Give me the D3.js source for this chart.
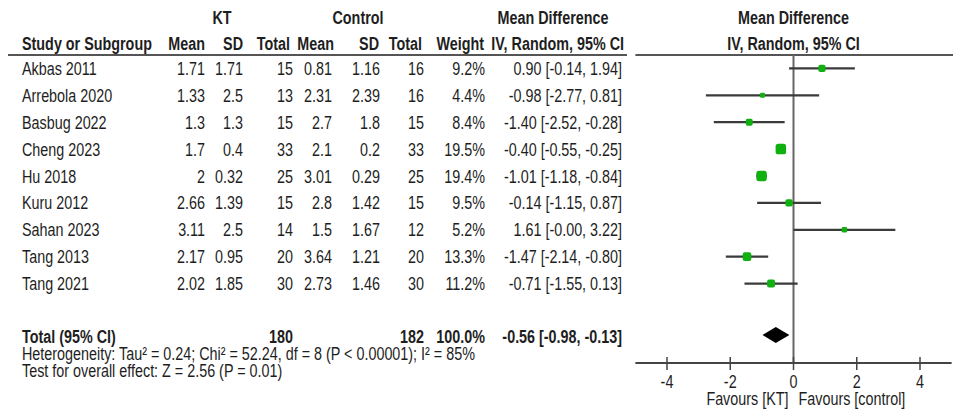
<!DOCTYPE html>
<html><head><meta charset="utf-8">
<script src="https://cdn.jsdelivr.net/npm/d3@7"></script>
<style>
html,body{margin:0;padding:0;background:#fff;}
svg{display:block;}
text{font-family:"Liberation Sans",Arial,sans-serif;fill:#1e1e1e;}
</style></head>
<body>
<svg id="chart" width="953" height="415"></svg>
<script>
const studies = ["Akbas 2011","Arrebola 2020","Basbug 2022","Cheng 2023","Hu 2018","Kuru 2012","Sahan 2023","Tang 2013","Tang 2021"];
const ktMean = ["1.71","1.33","1.3","1.7","2","2.66","3.11","2.17","2.02"];
const ktSD = ["1.71","2.5","1.3","0.4","0.32","1.39","2.5","0.95","1.85"];
const ktN = [15,13,15,33,25,15,14,20,30];
const ctrlMean = ["0.81","2.31","2.7","2.1","3.01","2.8","1.5","3.64","2.73"];
const ctrlSD = ["1.16","2.39","1.8","0.2","0.29","1.42","1.67","1.21","1.46"];
const ctrlN = [16,16,15,33,25,15,12,20,30];
const weights = [9.2,4.4,8.4,19.5,19.4,9.5,5.2,13.3,11.2];
const md = [0.90,-0.98,-1.40,-0.40,-1.01,-0.14,1.61,-1.47,-0.71];
const ciLow = [-0.14,-2.77,-2.52,-0.55,-1.18,-1.15,-0.00,-2.14,-1.55];
const ciHigh = [1.94,0.81,-0.28,-0.25,-0.84,0.87,3.22,-0.80,0.13];
const total = {ktN:180, ctrlN:182, weight:"100.0%", md:-0.56, lo:-0.98, hi:-0.13};
const axisTicks = [-4,-2,0,2,4];
const heterogeneity = "Heterogeneity: Tau\u00b2 = 0.24; Chi\u00b2 = 52.24, df = 8 (P < 0.00001); I\u00b2 = 85%";
const overallEffect = "Test for overall effect: Z = 2.56 (P = 0.01)";

const svg = d3.select("#chart");
const FS = 17.5, SX = 0.82;
function txt(x, y, s, opts={}) {
  return svg.append("text")
    .attr("transform", `translate(${x},${y}) scale(${SX},1)`)
    .attr("font-size", FS)
    .attr("text-anchor", opts.anchor || "start")
    .attr("font-weight", opts.bold ? "bold" : "normal")
    .text(s);
}
const f2 = v => (Object.is(v,-0) ? "-0.00" : v.toFixed(2));
const fmtCI = (m,l,h) => `${f2(m)} [${f2(l)}, ${f2(h)}]`;

// scales
const x = d3.scaleLinear().domain([-4,4]).range([667,920]);
const y = d3.scaleBand().domain(studies).range([55,297]);
const rowY = s => y(s) + y.bandwidth()/2;
const size = d3.scaleSqrt().domain([0,19.5]).range([0,10.5]);

// header
const h1 = 24, h2 = 50;
txt(222, h1, "KT", {anchor:"middle", bold:true});
txt(358, h1, "Control", {anchor:"middle", bold:true});
txt(553, h1, "Mean Difference", {anchor:"middle", bold:true});
txt(x(0), h1, "Mean Difference", {anchor:"middle", bold:true});
txt(22, h2, "Study or Subgroup", {bold:true});
const cols = [
  {x:205, h:"Mean"},{x:243, h:"SD"},{x:290, h:"Total"},
  {x:334, h:"Mean"},{x:379, h:"SD"},{x:422, h:"Total"},
  {x:484, h:"Weight"},{x:624, h:"IV, Random, 95% CI"}
];
cols.forEach(c => txt(c.x, h2, c.h, {anchor:"end", bold:true}));
txt(x(0), h2, "IV, Random, 95% CI", {anchor:"middle", bold:true});

// header rules
svg.append("line").attr("x1",8).attr("x2",627).attr("y1",55).attr("y2",55)
  .attr("stroke","#555").attr("stroke-width",2);
svg.append("line").attr("x1",x(-5)).attr("x2",953).attr("y1",55).attr("y2",55)
  .attr("stroke","#555").attr("stroke-width",2);

// data rows
const dataCols = [205,243,293,332,380,424,485,622];
studies.forEach((s,i) => {
  const by = rowY(s) + 6.5;
  txt(22, by, s);
  const vals = [ktMean[i], ktSD[i], ktN[i], ctrlMean[i], ctrlSD[i], ctrlN[i],
    weights[i].toFixed(1)+"%", fmtCI(md[i], ciLow[i], ciHigh[i])];
  vals.forEach((v,j) => txt(dataCols[j], by, String(v), {anchor:"end"}));
});

// total
const totY = 336;
txt(22, totY+6.5, "Total (95% CI)", {bold:true});
txt(dataCols[2], totY+6.5, String(total.ktN), {anchor:"end", bold:true});
txt(dataCols[5], totY+6.5, String(total.ctrlN), {anchor:"end", bold:true});
txt(dataCols[6], totY+6.5, total.weight, {anchor:"end", bold:true});
txt(dataCols[7], totY+6.5, fmtCI(total.md,total.lo,total.hi), {anchor:"end", bold:true});
txt(22, 360, heterogeneity);
txt(22, 377, overallEffect);

// zero line
const axisY = 363;
svg.append("line").attr("x1",x(0)).attr("x2",x(0)).attr("y1",55).attr("y2",axisY)
  .attr("stroke","#666").attr("stroke-width",2);

// CI lines and markers
studies.forEach((s,i) => {
  const cy = rowY(s);
  svg.append("line").attr("x1",x(ciLow[i])).attr("x2",x(ciHigh[i]))
    .attr("y1",cy).attr("y2",cy).attr("stroke","#3a3a3a").attr("stroke-width",2.2);
  const sz = size(weights[i]);
  svg.append("rect").attr("x",x(md[i])-sz/2).attr("y",cy-sz/2)
    .attr("width",sz).attr("height",sz).attr("rx",sz*0.25)
    .attr("fill","#11b011");
});

// diamond
svg.append("path")
  .attr("d", `M${x(total.lo)},${totY-1} L${x(total.md)},${totY-9} L${x(total.hi)},${totY-1} L${x(total.md)},${totY+7} Z`)
  .attr("fill","#000");

// axis
svg.append("line").attr("x1",x(-5)).attr("x2",x(5)).attr("y1",axisY).attr("y2",axisY)
  .attr("stroke","#444").attr("stroke-width",2);
axisTicks.forEach(t => {
  svg.append("line").attr("x1",x(t)).attr("x2",x(t)).attr("y1",axisY-6).attr("y2",axisY+7)
    .attr("stroke","#444").attr("stroke-width",1.5);
  txt(x(t), 388, String(t), {anchor:"middle"});
});
txt(x(0)-5, 405, "Favours [KT]", {anchor:"end"});
txt(x(0)+5, 405, "Favours [control]");
</script>
</body></html>
